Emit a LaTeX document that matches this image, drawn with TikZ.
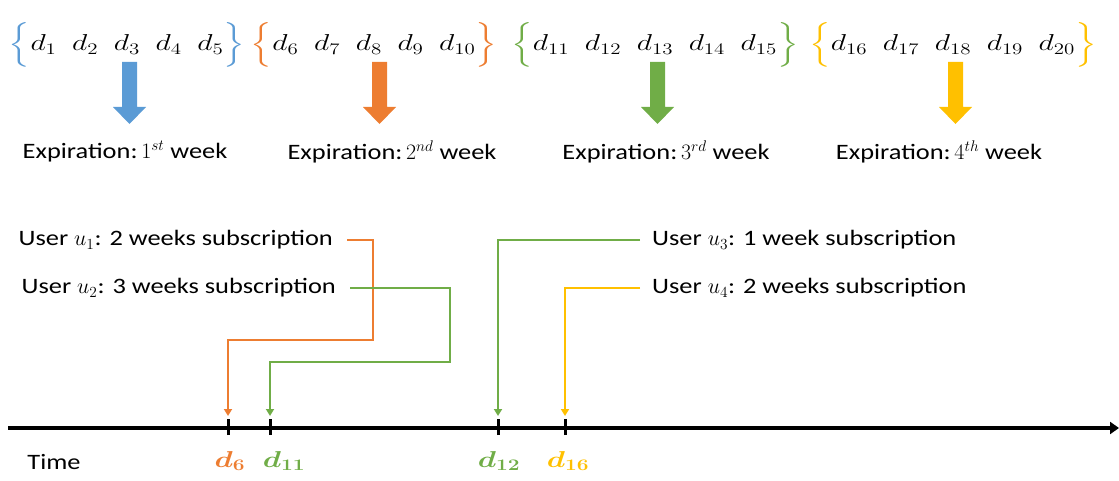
\RequirePackage{fix-cm}
\documentclass[tikz,border=0pt]{standalone}
\usepackage{amsmath}
\usepackage{fontspec}
\setmainfont{Carlito}[FakeStretch=1.2]
\definecolor{bluec}{HTML}{5B9BD5}
\definecolor{orangec}{HTML}{ED7D31}
\definecolor{greenc}{HTML}{70AD47}
\definecolor{yellowc}{HTML}{FFC000}
\newcommand{\gp}{\hspace{12pt}}
\tikzset{
  txt/.style={inner sep=0pt, font=\fontsize{22}{26}\selectfont},
  grp/.style={inner sep=0pt, xscale=1.3, transform shape, font=\fontsize{23}{27}\selectfont},
  conn/.style={line width=2pt, -{Triangle[length=7pt,width=8pt]}},
}
\usetikzlibrary{arrows.meta}
\begin{document}
\begin{tikzpicture}[x=1pt,y=-1pt]
\useasboundingbox (0,0) rectangle (1119,481);
\node[grp] (grp1) at (127,45){$\textcolor{bluec}{\Big\{}d_1\gp d_2\gp d_3\gp d_4\gp d_5\textcolor{bluec}{\Big\}}$};
\node[grp] (grp2) at (374,45){$\textcolor{orangec}{\Big\{}d_6\gp d_7\gp d_8\gp d_9\gp d_{10}\textcolor{orangec}{\Big\}}$};
\node[grp] (grp3) at (655,45){$\textcolor{greenc}{\Big\{}d_{11}\gp d_{12}\gp d_{13}\gp d_{14}\gp d_{15}\textcolor{greenc}{\Big\}}$};
\node[grp] (grp4) at (953,45){$\textcolor{yellowc}{\Big\{}d_{16}\gp d_{17}\gp d_{18}\gp d_{19}\gp d_{20}\textcolor{yellowc}{\Big\}}$};
\fill[bluec] (122,62) -- (137,62) -- (137,107) -- (146,107) -- (129.5,124) -- (113,107) -- (122,107) -- cycle;
\fill[orangec] (372,62) -- (387,62) -- (387,107) -- (396,107) -- (379.5,124) -- (363,107) -- (372,107) -- cycle;
\fill[greenc] (650,62) -- (665,62) -- (665,107) -- (674,107) -- (657.5,124) -- (641,107) -- (650,107) -- cycle;
\fill[yellowc] (948,62) -- (963,62) -- (963,107) -- (972,107) -- (955.5,124) -- (939,107) -- (948,107) -- cycle;
\node[txt] (exp1) at (125,152){Expiration:\,$1^{st}$ week};
\node[txt] (exp2) at (392,152){Expiration:\,$2^{nd}$ week};
\node[txt] (exp3) at (666,152){Expiration:\,$3^{rd}$ week};
\node[txt] (exp4) at (939,152){Expiration:\,$4^{th}$ week};
\node[txt, anchor=east] (usr1) at (333,240){User $u_1$: 2 weeks subscription};
\node[txt, anchor=east] (usr2) at (336,288){User $u_2$: 3 weeks subscription};
\node[txt, anchor=west] (usr3) at (652,240){User $u_3$: 1 week subscription};
\node[txt, anchor=west] (usr4) at (652,288){User $u_4$: 2 weeks subscription};
\coordinate (ax0) at (8,428);
\coordinate (ax1) at (1119,428);
\coordinate (tck6) at (228,428);
\coordinate (tck11) at (270,428);
\coordinate (tck12) at (498,428);
\coordinate (tck16) at (565,428);
\draw[line width=4pt, -{Triangle[length=9pt,width=12pt]}] (ax0) -- (ax1);
\draw[line width=3pt] ([yshift=-7pt]tck6) -- ([yshift=9pt]tck6);
\draw[line width=3pt] ([yshift=-7pt]tck11) -- ([yshift=9pt]tck11);
\draw[line width=3pt] ([yshift=-7pt]tck12) -- ([yshift=9pt]tck12);
\draw[line width=3pt] ([yshift=-7pt]tck16) -- ([yshift=9pt]tck16);
\draw[conn, orangec] ([xshift=14pt]usr1.east) -| (373,340) -| ([yshift=12pt]tck6);
\draw[conn, greenc] ([xshift=14pt]usr2.east) -| (450,362) -| ([yshift=12pt]tck11);
\draw[conn, greenc] ([xshift=-12pt]usr3.west) -| ([yshift=12pt]tck12);
\draw[conn, yellowc] ([xshift=-12pt]usr4.west) -| ([yshift=12pt]tck16);
\node[txt] (time) at (54,462){Time};
\node[grp] (lbl6) at (230,461){$\textcolor{orangec}{\boldsymbol{d_{6}}}$};
\node[grp] (lbl11) at (284,461){$\textcolor{greenc}{\boldsymbol{d_{11}}}$};
\node[grp] (lbl12) at (499,461){$\textcolor{greenc}{\boldsymbol{d_{12}}}$};
\node[grp] (lbl16) at (568,461){$\textcolor{yellowc}{\boldsymbol{d_{16}}}$};
\end{tikzpicture}
\end{document}
